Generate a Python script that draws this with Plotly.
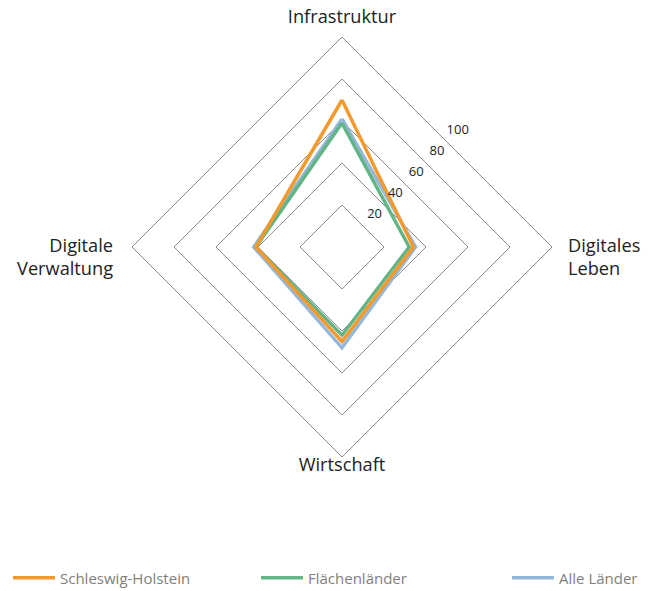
import plotly.graph_objects as go

categories = ["Infrastruktur", "Digitales Leben", "Wirtschaft", "Digitale Verwaltung"]
category_labels = ["Infrastruktur", "Digitales<br>Leben", "Wirtschaft", "Digitale<br>Verwaltung"]
sh_values = [70, 34, 45, 41]
fl_values = [59, 32, 42, 41]
al_values = [61, 35, 48, 42]
series_names = ["Schleswig-Holstein", "Flächenländer", "Alle Länder"]
colors = ["#F39A2E", "#63B585", "#95B8DA"]
radial_ticks = [20, 40, 60, 80, 100]

series = [sh_values, fl_values, al_values]

W, H = 657, 591
OFF = 8  # page body margin in the browser
CX, CY, R = 342 - OFF, 247 - OFF, 210

# helper polar for radial tick labels on the 45° diagonal
LBL_PER_UNIT = 1.47
LBL_OFFSET = 16.7
lbl_min = -LBL_OFFSET / LBL_PER_UNIT
R2 = (100 - lbl_min) * LBL_PER_UNIT

# helper polar for category labels (distance in px, angle in degrees)
R3 = 232
cat_pos = [(229, 90, "middle center"), (226.3, -3.0, "middle right"),
           (219, 270, "middle center"), (229.3, 183.0, "middle left")]

def dom(cx, cy, r):
    return dict(x=[(cx - r) / W, (cx + r) / W], y=[1 - (cy + r) / H, 1 - (cy - r) / H])

fig = go.Figure()
legend_ids = ["legend", "legend2", "legend3"]
legend_x = [0.0, 248 / W, 499 / W]
# draw in reverse so Schleswig-Holstein is on top
order = list(range(len(series)))[::-1]
for i in order:
    vals = series[i]
    fig.add_trace(go.Scatterpolar(
        r=vals + vals[:1],
        theta=category_labels + category_labels[:1],
        mode="lines",
        name=series_names[i],
        line=dict(color=colors[i], width=3.5),
        subplot="polar",
        legend=legend_ids[i],
        hovertext=categories + categories[:1],
    ))

fig.add_trace(go.Scatterpolar(
    r=radial_ticks,
    theta=[45] * len(radial_ticks),
    mode="text",
    text=[str(t) for t in radial_ticks],
    textposition="middle center",
    textfont=dict(size=13, color="#222222"),
    showlegend=False,
    hoverinfo="skip",
    subplot="polar2",
))

fig.add_trace(go.Scatterpolar(
    r=[d / R3 * 100 for d, a, p in cat_pos],
    theta=[a for d, a, p in cat_pos],
    mode="text",
    text=category_labels,
    textposition=[p for d, a, p in cat_pos],
    textfont=dict(size=18.2, color="#222222"),
    showlegend=False,
    hoverinfo="skip",
    subplot="polar3",
    cliponaxis=False,
))

legend_common = dict(
    orientation="h",
    xanchor="left",
    y=1 - (578 - OFF) / H, yanchor="middle",
    itemwidth=42,
    font=dict(size=15, color="#7f7f7f"),
    bgcolor="rgba(0,0,0,0)",
)

fig.update_layout(
    width=W, height=H,
    margin=dict(l=0, r=0, t=0, b=0, autoexpand=False),
    paper_bgcolor="white",
    font=dict(family="Open Sans, sans-serif", color="#222222"),
    polar=dict(
        domain=dom(CX, CY, R),
        gridshape="linear",
        bgcolor="white",
        radialaxis=dict(
            range=[0, 100],
            tickvals=radial_ticks,
            showticklabels=False,
            showline=False,
            ticks="",
            gridcolor="#8c8c8c",
            gridwidth=1,
        ),
        angularaxis=dict(
            rotation=90,
            direction="clockwise",
            showgrid=False,
            showline=True,
            linecolor="#8c8c8c",
            linewidth=1,
            ticks="",
            showticklabels=False,
        ),
    ),
    polar2=dict(
        domain=dom(CX, CY, R2),
        bgcolor="rgba(0,0,0,0)",
        radialaxis=dict(range=[lbl_min, 100], visible=False),
        angularaxis=dict(visible=False),
    ),
    polar3=dict(
        domain=dom(CX, CY, R3),
        bgcolor="rgba(0,0,0,0)",
        radialaxis=dict(range=[0, 100], visible=False),
        angularaxis=dict(visible=False),
    ),
    legend=dict(x=legend_x[0], **legend_common),
    legend2=dict(x=legend_x[1], **legend_common),
    legend3=dict(x=legend_x[2], **legend_common),
)

fig.write_html("out.html")
